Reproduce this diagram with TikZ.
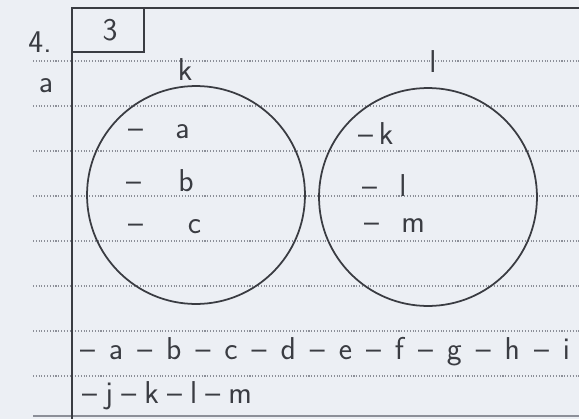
\documentclass[tikz,border=0pt]{standalone}
\usepackage{tikz}
\usetikzlibrary{positioning}
\definecolor{paper}{RGB}{236,239,244}
\definecolor{ink}{RGB}{58,60,66}
\definecolor{ruling}{RGB}{140,143,152}
\newcommand{\hand}{\sffamily\fontsize{18}{21}\selectfont}

\begin{document}
\begin{tikzpicture}[x=0.02cm,y=-0.02cm,
  setcircle/.style={circle,draw=ink,line width=1pt,minimum size=4.36cm,inner sep=0pt},
  item/.style={text=ink,font=\hand,inner sep=1pt},
  ruled/.style={draw=ruling,densely dotted,line width=0.6pt},
  frame/.style={draw=ink,line width=0.9pt}
]
\fill[paper] (0,0) rectangle (579,419);
\useasboundingbox (0,0) rectangle (579,419);
% ruled lines of the page
\foreach \y in {61,106,151,196,241,286,331,376}
  \draw[ruled] (33,\y) -- (579,\y);
\draw[draw=ruling,line width=0.8pt] (33,416) -- (579,416);
\draw[frame] (72,419) -- (72,8) -- (579,8);
\draw[frame] (72,52) -- (144,52) -- (144,8);
\node[item] (num) at (110,30) {3};
\node[item] (qno) at (40,42) {4.};
\node[item] (part) at (46,86) {a};
% the two sets
\node[setcircle] (setK) at (196,195) {};
\node[setcircle] (setL) at (428,197) {};
\node[item] (labK) at (185,70) {k};
\node[item] (labL) at (433,62) {l};
\node[item,anchor=west] (ka) at (126,132) {--\hspace{0.65cm}a};
\node[item,anchor=west] (kb) at (124,181) {--\hspace{0.75cm}b};
\node[item,anchor=west] (kc) at (126,227) {--\hspace{0.9cm}c};
\node[item,anchor=west] (lk) at (356,134) {--\hspace{0.12cm}k};
\node[item,anchor=west] (ll) at (360,186) {--\hspace{0.45cm}l};
\node[item,anchor=west] (lm) at (362,226) {--\hspace{0.45cm}m};
% all members
\node[item,anchor=west] (row1) at (78,352) {\makebox[9.8cm][s]{-- a -- b -- c -- d -- e -- f -- g -- h -- i}};
\node[item,anchor=west] (row2) at (80,396) {\makebox[3.4cm][s]{-- j -- k -- l -- m}};
\end{tikzpicture}
\end{document}
